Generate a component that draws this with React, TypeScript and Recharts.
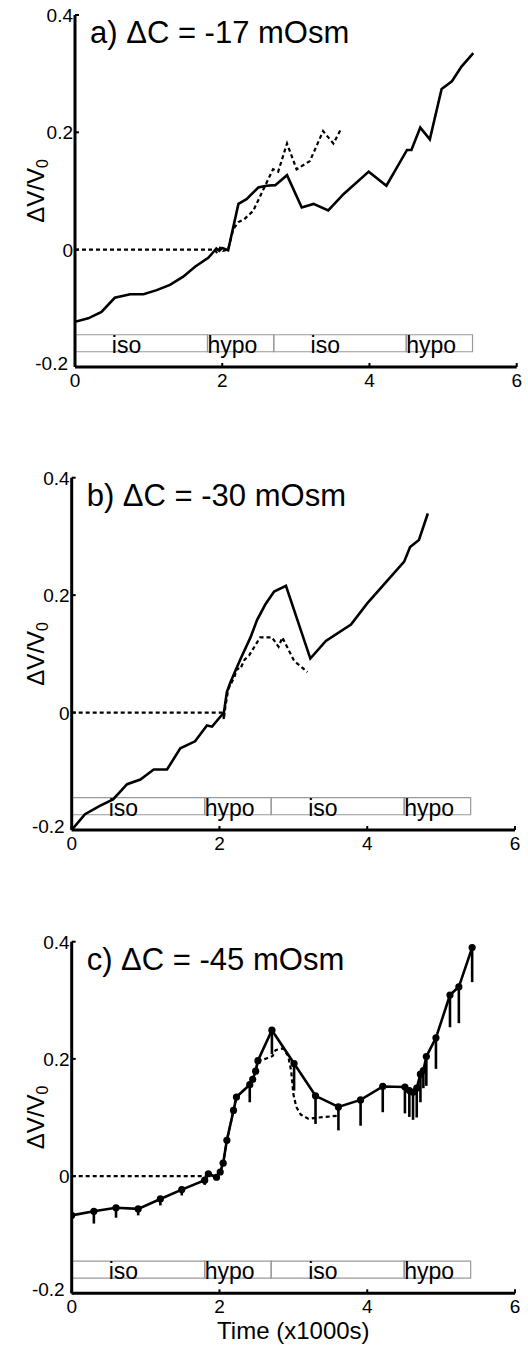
import React from 'react';
import {
  ComposedChart,
  Line,
  XAxis,
  YAxis,
  ReferenceArea,
  Scatter,
  ErrorBar,
  Label,
} from 'recharts';

const FONT = '"Liberation Sans", Arial, Helvetica, sans-serif';

// Shared axes
const xTicks = [0, 2, 4, 6];
const yTicks = [-0.2, 0, 0.2, 0.4];
const yTickText = ['-0.2', '0', '0.2', '0.4'];

// Perfusion protocol bar
const phaseNames = ['iso', 'hypo', 'iso', 'hypo'];
const phaseStart = [0, 1.8, 2.7, 4.5];
const phaseEnd = [1.8, 2.7, 4.5, 5.4];
const phaseLabelAt = [0.5, 1.8, 3.2, 4.5];
const phaseTop = -0.145;
const phaseBottom = -0.174;

// a) dC = -17 mOsm
const aSolidT = [0, 0.18, 0.36, 0.54, 0.75, 0.93, 1.11, 1.29, 1.47, 1.63, 1.81, 1.88, 1.92, 1.96, 2.0, 2.08, 2.22, 2.33, 2.49, 2.6, 2.72, 2.88, 3.08, 3.24, 3.44, 3.65, 3.99, 4.23, 4.51, 4.57, 4.69, 4.82, 4.98, 5.12, 5.25, 5.41];
const aSolidV = [-0.123, -0.117, -0.106, -0.082, -0.076, -0.076, -0.069, -0.06, -0.046, -0.029, -0.014, -0.004, 0.002, -0.002, 0.003, -0.001, 0.078, 0.086, 0.106, 0.109, 0.11, 0.127, 0.072, 0.078, 0.067, 0.095, 0.133, 0.109, 0.17, 0.17, 0.208, 0.188, 0.274, 0.287, 0.312, 0.335];
const aDashT = [0, 1.9, 1.93, 1.97, 2.01, 2.08, 2.15, 2.22, 2.3, 2.42, 2.56, 2.69, 2.76, 2.88, 3.01, 3.19, 3.37, 3.51, 3.61];
const aDashV = [0, 0, -0.006, 0.003, -0.002, 0, 0.035, 0.047, 0.052, 0.066, 0.103, 0.137, 0.133, 0.181, 0.137, 0.151, 0.202, 0.181, 0.205];

// b) dC = -30 mOsm
const bSolidT = [0, 0.18, 0.38, 0.56, 0.75, 0.93, 1.11, 1.29, 1.47, 1.67, 1.83, 1.9, 2.06, 2.1, 2.15, 2.28, 2.42, 2.51, 2.62, 2.74, 2.9, 3.23, 3.44, 3.78, 4.0, 4.5, 4.58, 4.7, 4.82];
const bSolidV = [-0.2, -0.173, -0.159, -0.148, -0.122, -0.114, -0.097, -0.097, -0.061, -0.049, -0.022, -0.024, 0, 0.035, 0.052, 0.09, 0.128, 0.158, 0.184, 0.206, 0.216, 0.092, 0.122, 0.15, 0.186, 0.257, 0.282, 0.294, 0.339];
const bDashT = [0, 2.05, 2.06, 2.08, 2.12, 2.2, 2.24, 2.28, 2.34, 2.4, 2.55, 2.71, 2.8, 2.85, 3.01, 3.19];
const bDashV = [0, 0, -0.012, 0.01, 0.04, 0.06, 0.075, 0.074, 0.09, 0.097, 0.128, 0.128, 0.112, 0.128, 0.088, 0.069];

// c) dC = -45 mOsm, mean with lower error
const cSolidT = [0, 0.3, 0.6, 0.9, 1.2, 1.49, 1.8, 1.85, 1.96, 2.01, 2.05, 2.1, 2.19, 2.23, 2.41, 2.45, 2.49, 2.52, 2.71, 3.01, 3.3, 3.61, 3.91, 4.21, 4.51, 4.57, 4.62, 4.67, 4.72, 4.76, 4.8, 4.93, 5.12, 5.24, 5.42];
const cSolidV = [-0.067, -0.06, -0.054, -0.056, -0.039, -0.023, -0.007, 0.004, -0.002, 0.007, 0.022, 0.061, 0.112, 0.135, 0.156, 0.165, 0.179, 0.197, 0.249, 0.192, 0.137, 0.118, 0.13, 0.153, 0.152, 0.146, 0.143, 0.15, 0.174, 0.18, 0.204, 0.236, 0.309, 0.323, 0.39];
const cSolidErr = [0, 0.021, 0.017, 0.011, 0.011, 0.01, 0.008, 0, 0, 0, 0, 0, 0, 0, 0.03, 0, 0, 0, 0.041, 0.046, 0.048, 0.04, 0.044, 0.044, 0.045, 0.045, 0.047, 0.05, 0.048, 0.03, 0.05, 0.053, 0.055, 0.062, 0.059];
const cDashT = [0, 1.82, 1.85, 1.96, 2.01, 2.05, 2.1, 2.19, 2.23, 2.41, 2.49, 2.52, 2.62, 2.72, 2.76, 2.86, 2.93, 2.97, 3.0, 3.04, 3.1, 3.2, 3.35, 3.6];
const cDashV = [0, 0, 0.004, -0.002, 0.007, 0.022, 0.061, 0.112, 0.135, 0.156, 0.179, 0.197, 0.2, 0.205, 0.215, 0.218, 0.205, 0.18, 0.14, 0.118, 0.105, 0.098, 0.1, 0.103];

type Pt = { t: number; v: number; err?: [number, number] };

const zip = (t: number[], v: number[]): Pt[] => t.map((x, i) => ({ t: x, v: v[i] }));
const zipErr = (t: number[], v: number[], e: number[]): Pt[] =>
  t.map((x, i) => ({ t: x, v: v[i], err: [e[i], 0] as [number, number] }));

const phaseLabels = phaseNames.map((name, i) => ({ t: phaseLabelAt[i], v: phaseBottom, name }));

const YTick = (props: any) => {
  const { x, y, payload } = props;
  const idx = yTicks.indexOf(payload.value);
  // the lowest label sits just clear of the x-axis "0"
  const isBottom = payload.value === yTicks[0];
  return (
    <g>
      <line x1={x} x2={x + 4} y1={y} y2={y} stroke="#000" strokeWidth={2} />
      <text
        x={isBottom ? x - 7 : x - 2}
        y={isBottom ? y + 3 : y + 7}
        textAnchor="end"
        fontFamily={FONT}
        fontSize={19}
        fill="#000"
      >
        {idx >= 0 ? yTickText[idx] : String(payload.value)}
      </text>
    </g>
  );
};

const XTick = (props: any) => {
  const { x, y, payload } = props;
  return (
    <g>
      <line x1={x} x2={x} y1={y} y2={y - 4} stroke="#000" strokeWidth={2} />
      <text x={x} y={y + 20} textAnchor="middle" fontFamily={FONT} fontSize={19} fill="#000">
        {String(payload.value)}
      </text>
    </g>
  );
};

const YLabel = (props: any) => {
  const { viewBox } = props;
  const cx = 35;
  const cy = viewBox.y + viewBox.height / 2;
  return (
    <text
      x={cx}
      y={cy}
      transform={`rotate(-90, ${cx}, ${cy})`}
      textAnchor="middle"
      dominantBaseline="central"
      fontFamily={FONT}
      fontSize={24}
      fill="#000"
    >
      <tspan>ΔV/V</tspan>
      <tspan fontSize={16} dy={7}>0</tspan>
    </text>
  );
};

const PhaseText = (props: any) => {
  const { cx, cy, payload } = props;
  return (
    <text x={cx} y={cy + 1} textAnchor="start" fontFamily={FONT} fontSize={23} fill="#000">
      {payload.name}
    </text>
  );
};

type PanelProps = {
  top: number;
  height: number;
  plotTop: number;
  axisLeft: number;
  right: number;
  xAxisHeight: number;
  title: string;
  solid: Pt[];
  dashed: Pt[];
  markers?: boolean;
  xLabel?: string;
};

const Panel = ({ top, height, plotTop, axisLeft, right, xAxisHeight, title, solid, dashed, markers, xLabel }: PanelProps) => (
  <div style={{ position: 'absolute', left: 0, top, width: 528, height }}>
    <ComposedChart
      width={528}
      height={height}
      margin={{ top: plotTop, right, bottom: 0, left: 0 }}
    >
      <XAxis
        type="number"
        dataKey="t"
        domain={[0, 6]}
        ticks={xTicks}
        interval={0}
        allowDataOverflow
        height={xAxisHeight}
        tickSize={0}
        tickMargin={0}
        tickLine={false}
        axisLine={{ stroke: '#000', strokeWidth: 3 }}
        tick={(p: any) => <XTick {...p} />}
      >
        {xLabel ? (
          <Label
            content={(p: any) => {
              const vb = p.viewBox;
              return (
                <text
                  x={vb.x + vb.width / 2}
                  y={vb.y + 46}
                  textAnchor="middle"
                  fontFamily={FONT}
                  fontSize={24}
                  fill="#000"
                >
                  {xLabel}
                </text>
              );
            }}
          />
        ) : null}
      </XAxis>
      <YAxis
        type="number"
        domain={[-0.2, 0.4]}
        ticks={yTicks}
        interval={0}
        allowDataOverflow
        width={axisLeft}
        tickSize={0}
        tickMargin={0}
        tickLine={false}
        axisLine={{ stroke: '#000', strokeWidth: 3 }}
        tick={(p: any) => <YTick {...p} />}
      >
        <Label content={(p: any) => <YLabel {...p} />} />
      </YAxis>
      {phaseNames.map((name, i) => (
        <ReferenceArea
          key={`${name}-${i}`}
          x1={phaseStart[i]}
          x2={phaseEnd[i]}
          y1={phaseBottom}
          y2={phaseTop}
          fill="#fff"
          fillOpacity={0}
          stroke="#999"
          strokeWidth={1.2}
        />
      ))}
      <Scatter
        data={phaseLabels}
        dataKey="v"
        isAnimationActive={false}
        shape={(p: any) => <PhaseText {...p} />}
      />
      <Line
        data={dashed}
        dataKey="v"
        type="linear"
        stroke="#000"
        strokeWidth={2.2}
        strokeDasharray="4 3"
        dot={false}
        activeDot={false}
        isAnimationActive={false}
      />
      <Line
        data={solid}
        dataKey="v"
        type="linear"
        stroke="#000"
        strokeWidth={2.6}
        dot={markers ? { r: 3.6, fill: '#000', stroke: '#000', strokeWidth: 0 } : false}
        activeDot={false}
        isAnimationActive={false}
      >
        {markers ? (
          <ErrorBar dataKey="err" direction="y" width={0} stroke="#000" strokeWidth={2.6} />
        ) : null}
      </Line>
    </ComposedChart>
    <svg
      width={528}
      height={height}
      style={{ position: 'absolute', left: 0, top: 0, pointerEvents: 'none' }}
    >
      <text x={axisLeft + 15} y={plotTop + 28} fontFamily={FONT} fontSize={31} fill="#000">
        {title}
      </text>
    </svg>
  </div>
);

export default function App() {
  return (
    <div style={{ position: 'absolute', left: 0, top: 0, width: 528, height: 1345, background: '#fff' }}>
      <Panel
        top={0}
        height={400}
        plotTop={15}
        axisLeft={75}
        right={11.3}
        xAxisHeight={33}
        title="a) ΔC = -17 mOsm"
        solid={zip(aSolidT, aSolidV)}
        dashed={zip(aDashT, aDashV)}
      />
      <Panel
        top={440}
        height={423}
        plotTop={37.7}
        axisLeft={71.7}
        right={13}
        xAxisHeight={33}
        title="b) ΔC = -30 mOsm"
        solid={zip(bSolidT, bSolidV)}
        dashed={zip(bDashT, bDashV)}
      />
      <Panel
        top={900}
        height={445}
        plotTop={41.7}
        axisLeft={71.7}
        right={13}
        xAxisHeight={51.7}
        title="c) ΔC = -45 mOsm"
        solid={zipErr(cSolidT, cSolidV, cSolidErr)}
        dashed={zip(cDashT, cDashV)}
        markers
        xLabel="Time (x1000s)"
      />
    </div>
  );
}
